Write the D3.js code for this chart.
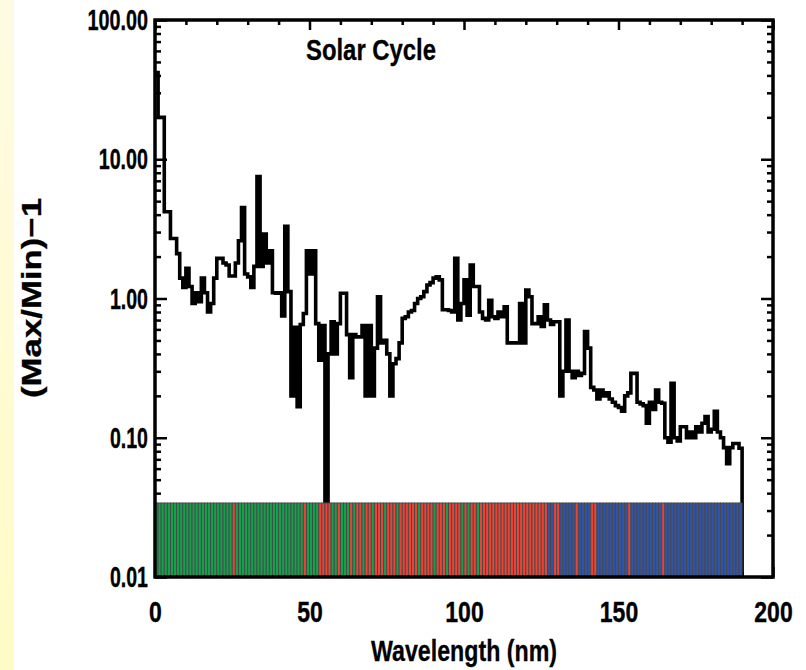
<!DOCTYPE html>
<html><head><meta charset="utf-8">
<script src="https://cdn.jsdelivr.net/npm/d3@7"></script>
<style>
html,body{margin:0;padding:0;background:#fff;}
text{font-family:"Liberation Sans",Arial,sans-serif;font-weight:bold;fill:#000;}
</style></head>
<body>
<svg id="chart" width="806" height="670"></svg>
<script>
// ---- data ----
const wavelengths = d3.range(0, 190); // bin starts, nm (1 nm bins)
const ratioValues = [
 42,20,20,4.2,4.2,2.7,2.7,2.1,1.4,1.2,
 1.65,1.22,0.92,1.1,0.95,1.4,1.1,0.80,0.92,1.4,
 1.94,1.94,1.8,1.74,1.45,1.45,1.8,2.6,4.5,1.5,
 1.43,1.2,1.7,7.5,1.7,2.9,1.8,2.2,1.1,1.09,
 1.1,0.75,3.3,1.12,0.2,0.62,0.167,0.65,0.78,2.2,
 1.5,2.2,0.66,0.36,0.64,0.015,0.40,0.68,0.40,0.66,
 1.09,1.09,0.55,0.27,0.55,0.53,0.53,0.64,0.20,0.64,
 0.20,0.44,1.03,0.48,0.50,0.40,0.20,0.34,0.37,0.48,
 0.72,0.74,0.80,0.82,0.92,1.0,1.03,1.12,1.25,1.3,
 1.4,1.43,1.36,0.83,0.83,0.82,0.80,1.94,0.70,0.92,
 1.36,0.76,1.74,1.22,1.22,0.80,0.72,0.70,0.97,0.74,
 0.72,0.80,0.74,0.87,0.48,0.48,0.48,0.48,0.92,0.48,
 1.15,1.03,0.66,0.66,0.74,0.63,0.90,0.70,0.65,0.68,
 0.68,0.2,0.30,0.70,0.30,0.27,0.30,0.28,0.29,0.58,
 0.44,0.23,0.22,0.19,0.22,0.20,0.21,0.19,0.18,0.17,
 0.165,0.155,0.20,0.21,0.29,0.29,0.18,0.175,0.17,0.127,
 0.18,0.16,0.22,0.18,0.177,0.10,0.093,0.246,0.10,0.095,
 0.12,0.12,0.10,0.11,0.10,0.12,0.11,0.127,0.142,0.11,
 0.115,0.155,0.11,0.10,0.085,0.065,0.085,0.091,0.091,0.084
];
// spectral band of each 1 nm bin, run-length: [band, count]
const bandRuns = [
 ["G",25],["R",1],["G",22],["R",1],["G",4],["R",4],["G",2],["R",1],["G",3],["R",1],
 ["G",1],["R",2],["G",1],["R",2],["G",1],["R",3],["G",1],["R",3],["G",1],["R",6],
 ["G",1],["R",4],["G",1],["R",3],["G",1],["R",4],["G",1],["R",1],["G",1],["R",2],
 ["G",1],["R",22],["B",2],["R",2],["B",5],["R",1],["B",4],["R",2],["B",10],["R",1],
 ["B",10],["R",1],["B",25]
];
const bandTop = 0.034;
const yMajorTicks = [0.01, 0.1, 1, 10, 100];
const xMajorTicks = [0, 50, 100, 150, 200];
const xMinorTicks = [10,20,30,40,60,70,80,90,110,120,130,140,160,170,180,190];
const yMinorTicks = [];
[0.01,0.1,1,10].forEach(d => { for (let k=2;k<=9;k++) yMinorTicks.push(+(d*k).toPrecision(3)); });
const titleText = "Solar Cycle";
const xTitle = "Wavelength (nm)";
const yTitle = "(Max/Min)\u22121";

// ---- layout ----
const L = 155, R = 773, T = 20, B = 577;
const svg = d3.select("#chart");
const defs = svg.append("defs");
const grad = defs.append("linearGradient").attr("id","strip").attr("x1",0).attr("y1",0).attr("x2",0).attr("y2",1);
grad.append("stop").attr("offset","0%").attr("stop-color","#fffbe2");
grad.append("stop").attr("offset","100%").attr("stop-color","#fffbc6");
svg.append("rect").attr("x",0).attr("y",0).attr("width",806).attr("height",670).attr("fill","#fff");
svg.append("rect").attr("x",0).attr("y",0).attr("width",14).attr("height",670).attr("fill","url(#strip)");

const x = d3.scaleLinear().domain([0,200]).range([L,R]);
const y = d3.scaleLog().domain([0.01,100]).range([B,T]);

const tickStroke = 2.5;
function styleAxis(g){ g.select(".domain").remove(); g.selectAll(".tick line").attr("stroke","#000").attr("stroke-width",tickStroke); }

// y axes
svg.append("g").attr("transform",`translate(${L},0)`)
  .call(d3.axisLeft(y).tickValues(yMinorTicks).tickFormat("").tickSizeInner(-6).tickSizeOuter(0)).call(styleAxis);
const yl = svg.append("g").attr("transform",`translate(${L},0)`)
  .call(d3.axisLeft(y).tickValues(yMajorTicks).tickFormat(d3.format(".2f")).tickSizeInner(-12).tickSizeOuter(0).tickPadding(7)).call(styleAxis);
svg.append("g").attr("transform",`translate(${R},0)`)
  .call(d3.axisRight(y).tickValues(yMinorTicks).tickFormat("").tickSizeInner(-6).tickSizeOuter(0)).call(styleAxis);
svg.append("g").attr("transform",`translate(${R},0)`)
  .call(d3.axisRight(y).tickValues(yMajorTicks).tickFormat("").tickSizeInner(-12).tickSizeOuter(0)).call(styleAxis);
// x axes
svg.append("g").attr("transform",`translate(0,${T})`)
  .call(d3.axisTop(x).tickValues(xMinorTicks).tickFormat("").tickSizeInner(-5).tickSizeOuter(0)).call(styleAxis);
svg.append("g").attr("transform",`translate(0,${T})`)
  .call(d3.axisTop(x).tickValues(xMajorTicks).tickFormat("").tickSizeInner(-10).tickSizeOuter(0)).call(styleAxis);
svg.append("g").attr("transform",`translate(0,${B})`)
  .call(d3.axisBottom(x).tickValues(xMinorTicks).tickFormat("").tickSizeInner(-5).tickSizeOuter(0)).call(styleAxis);
const xl = svg.append("g").attr("transform",`translate(0,${B})`)
  .call(d3.axisBottom(x).tickValues(xMajorTicks).tickFormat(d3.format("d")).tickSizeInner(-10).tickSizeOuter(0).tickPadding(24)).call(styleAxis);

function fitLabel(sel, per, dot){
  sel.each(function(){
    const t = d3.select(this).text();
    const n = t.replace(/[^0-9]/g,"").length, p = t.length - n;
    d3.select(this).attr("textLength", n*per + p*dot).attr("lengthAdjust","spacingAndGlyphs");
  });
}
yl.selectAll(".tick text").attr("font-size",30).attr("fill","#000").attr("stroke","#000").attr("stroke-width",0.4).call(fitLabel, 11.2, 4.5);
xl.selectAll(".tick text").attr("font-size",30).attr("fill","#000").attr("stroke","#000").attr("stroke-width",0.4).call(fitLabel, 12.8, 4.5);
yl.attr("font-family",null); xl.attr("font-family",null);

// step line
const pts = wavelengths.map((w,i)=>[w, ratioValues[i]]);
const last = wavelengths[wavelengths.length-1] + 1;
pts.push([last, ratioValues[ratioValues.length-1]]);
pts.push([last, 0.01]);
const line = d3.line().x(d=>x(d[0])).y(d=>y(d[1])).curve(d3.curveStepAfter);
svg.append("path").datum(pts).attr("d",line).attr("fill","none").attr("stroke","#000").attr("stroke-width",3.6).attr("stroke-linejoin","miter");

// colored band
const bands = [];
bandRuns.forEach(([b,c]) => { for (let k=0;k<c;k++) bands.push(b); });
const bandColor = {G:"#16a04e", R:"#ea4437", B:"#3154a6"};
svg.append("g").selectAll("rect").data(wavelengths).join("rect")
  .attr("x", d=>x(d)).attr("width", d=>x(d+1)-x(d))
  .attr("y", y(bandTop)).attr("height", y(0.01)-y(bandTop))
  .attr("fill", (d,i)=>bandColor[bands[i]]).attr("stroke","#474747").attr("stroke-width",0.9);

// frame
svg.append("rect").attr("x",L).attr("y",T).attr("width",R-L).attr("height",B-T)
  .attr("fill","none").attr("stroke","#000").attr("stroke-width",3.5);

// titles
svg.append("text").attr("x",306).attr("y",60).attr("font-size",29).attr("stroke","#000").attr("stroke-width",0.3).attr("textLength",130).attr("lengthAdjust","spacingAndGlyphs").text(titleText);
svg.append("text").attr("x",x(100)).attr("y",661).attr("text-anchor","middle").attr("font-size",29).attr("stroke","#000").attr("stroke-width",0.3).attr("textLength",186).attr("lengthAdjust","spacingAndGlyphs").text(xTitle);
svg.append("text").attr("transform","translate(41,298) rotate(-90)").attr("text-anchor","middle").attr("font-size",28).attr("stroke","#000").attr("stroke-width",0.3).attr("textLength",200).attr("lengthAdjust","spacingAndGlyphs").text(yTitle);
</script>
</body></html>
